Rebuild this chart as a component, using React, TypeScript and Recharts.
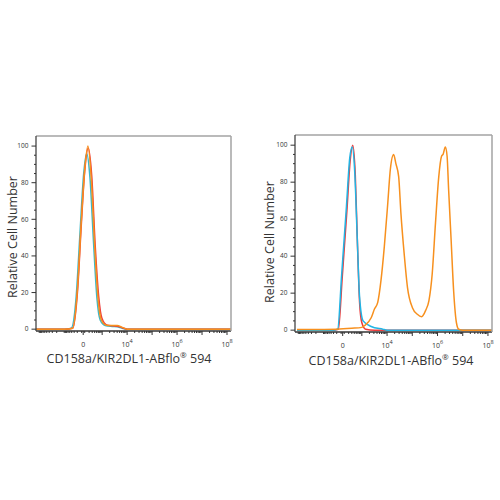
import { LineChart, Line, XAxis, YAxis } from "recharts"

// display coordinate: t = decade position on the biexponential axis
const T_MIN = 0.35
const T_MAX = 8.16
const ZERO_T = 2.24

const Y_TICKS = [0, 5, 10, 15, 20, 25, 30, 35, 40, 45, 50, 55, 60, 65, 70, 75, 80, 85, 90, 95, 100]
const X_LABEL_POS = [ZERO_T, 4, 6, 8]
const X_LABEL_EXP = ["", "4", "6", "8"]

const COLORS = {
  red: "#ec3b3b",
  orange: "#f7901e",
  teal: "#3bb8c8",
  cyan: "#22b4e4",
}

// left panel (isotype / controls)
const leftTealT = [0.35, 1.5, 1.76, 1.96, 2.11, 2.26, 2.38, 2.51, 2.66, 2.79, 2.92, 3.12, 3.4, 3.6, 3.78, 3.98, 8.16]
const leftTealV = [0, 0, 0.5, 18, 52, 85, 96, 83, 46, 17, 5, 2, 1.5, 1.3, 0.6, 0, 0]
const leftRedT = [0.35, 1.5, 1.82, 2.02, 2.16, 2.3, 2.44, 2.58, 2.72, 2.86, 2.99, 3.2, 3.4, 3.6, 3.8, 4.0, 8.16]
const leftRedV = [0, 0, 0.5, 22, 56, 86, 99, 84, 46, 18, 6, 2.2, 1.8, 1.6, 0.8, 0, 0]
const leftOrangeT = [0.35, 1.5, 1.82, 2.02, 2.16, 2.3, 2.43, 2.57, 2.71, 2.84, 2.97, 3.17, 3.4, 3.6, 3.81, 4.0, 8.16]
const leftOrangeV = [0, 0, 0.5, 24, 58, 87, 100, 81, 43, 16, 5, 2.2, 2, 2, 1, 0, 0]

// right panel
const rightOrangeT = [0.43, 1.0, 2.0, 2.6, 3.0, 3.11, 3.37, 3.5, 3.63, 3.76, 3.89, 4.03, 4.13, 4.26, 4.35, 4.46, 4.55, 4.68, 4.81, 5.01, 5.2, 5.37, 5.53, 5.66, 5.79, 5.92, 6.05, 6.16, 6.22, 6.31, 6.38, 6.44, 6.54, 6.64, 6.75, 6.84, 7.0, 8.16]
const rightOrangeV = [0.3, 0.3, 0.5, 1, 1.5, 2.5, 6.7, 11.4, 15, 27, 45, 69, 87, 95, 90, 83, 63, 41, 23, 12, 8.6, 7.3, 10.7, 16, 30.5, 58, 83, 94, 95, 99, 94, 76, 48.6, 21, 4, 0.5, 0, 0]
const rightRedT = [0.43, 1.8, 2.07, 2.22, 2.41, 2.54, 2.64, 2.74, 2.83, 2.91, 3.0, 3.15, 3.5, 8.16]
const rightRedV = [0, 0, 0.5, 28, 65, 92, 100, 84, 45, 15, 4, 0.5, 0, 0]
const rightCyanT = [0.43, 1.8, 2.04, 2.2, 2.39, 2.52, 2.62, 2.72, 2.82, 2.91, 3.05, 3.37, 3.83, 4.0, 8.16]
const rightCyanV = [0, 0, 0.5, 30, 67, 93, 99, 85, 49, 18, 5, 2, 0.5, 0, 0]

const toData = (t: number[], v: number[]) => t.map((x, i) => ({ t: x, v: v[i] }))

// decade + minor ticks, mirrored below zero like a biex axis
const xTicks: number[] = []
for (let d = 2; d <= 7; d++) {
  for (let k = 1; k <= 9; k++) {
    const t = d + Math.log10(k)
    if (t > ZERO_T + 0.05) {
      xTicks.push(t)
      const m = 2 * ZERO_T - t
      if (m >= T_MIN + 0.02) xTicks.push(m)
    }
  }
}
xTicks.push(8, ZERO_T)

const TICK_COLOR = "#333"
const FONT = "'Open Sans', 'DejaVu Sans', sans-serif"

function YTick(props: any) {
  const { x, y, payload } = props
  const major = payload.value % 20 === 0
  return (
    <g>
      <line x1={x - (major ? 4.5 : 2)} x2={x} y1={y} y2={y} stroke={TICK_COLOR} strokeWidth={1} />
      {major && (
        <text x={x - 7.5} y={y} dy={2.3} textAnchor="end" fontSize={6.5} fill={TICK_COLOR} fontFamily={FONT}>
          {payload.value}
        </text>
      )}
    </g>
  )
}

function XTick(props: any) {
  const { x, y, payload } = props
  const li = X_LABEL_POS.findIndex((p) => Math.abs(p - payload.value) < 1e-6)
  const isDecade = Math.abs(payload.value - Math.round(payload.value)) < 1e-6
  const len = li >= 0 || isDecade ? 4 : 2
  return (
    <g>
      <line x1={x} x2={x} y1={y} y2={y + len} stroke={TICK_COLOR} strokeWidth={1} />
      {li >= 0 && (
        <text x={x} y={y + 16} textAnchor="middle" fontSize={7} fill={TICK_COLOR} fontFamily={FONT}>
          {X_LABEL_EXP[li] === "" ? "0" : "10"}
          {X_LABEL_EXP[li] !== "" && (
            <tspan dy={-4} fontSize={5.5}>
              {X_LABEL_EXP[li]}
            </tspan>
          )}
        </text>
      )}
    </g>
  )
}

interface Series {
  data: { t: number; v: number }[]
  color: string
}

interface PanelProps {
  left: number
  margin: { top: number; right: number; bottom: number; left: number }
  series: Series[]
}

function Panel({ left, margin, series }: PanelProps) {
  return (
    <div style={{ position: "absolute", left, top: 0 }}>
      <LineChart width={250} height={400} margin={margin}>
        <XAxis
          dataKey="t"
          type="number"
          domain={[T_MIN, T_MAX]}
          allowDataOverflow
          ticks={xTicks}
          interval={0}
          tick={<XTick />}
          tickLine={false}
          tickSize={0}
          tickMargin={0}
          mirror
          axisLine={{ stroke: "#333", strokeWidth: 1.3 }}
        />
        <XAxis
          xAxisId="top"
          orientation="top"
          dataKey="t"
          type="number"
          domain={[T_MIN, T_MAX]}
          tick={false}
          tickLine={false}
          mirror
          axisLine={{ stroke: "#a3a3a3", strokeWidth: 1.5 }}
        />
        <YAxis
          type="number"
          domain={[-1, 105.5]}
          allowDataOverflow
          ticks={Y_TICKS}
          interval={0}
          tick={<YTick />}
          tickLine={false}
          tickSize={0}
          tickMargin={0}
          mirror
          axisLine={{ stroke: "#444", strokeWidth: 1.3 }}
        />
        <YAxis
          yAxisId="right"
          orientation="right"
          type="number"
          domain={[-1, 105.5]}
          tick={false}
          tickLine={false}
          mirror
          axisLine={{ stroke: "#a3a3a3", strokeWidth: 1.5 }}
        />
        {series.map((s, i) => (
          <Line
            key={i}
            data={s.data}
            dataKey="v"
            type="monotone"
            stroke={s.color}
            strokeWidth={1.5}
            dot={false}
            isAnimationActive={false}
          />
        ))}
      </LineChart>
    </div>
  )
}

const titleStyle: React.CSSProperties = {
  position: "absolute",
  fontFamily: FONT,
  fontSize: 12.5,
  color: "#333",
  whiteSpace: "nowrap",
  lineHeight: 1,
}

function XTitle({ cx, cy }: { cx: number; cy: number }) {
  return (
    <div style={{ ...titleStyle, left: cx, top: cy, transform: "translate(-50%, -50%)" }}>
      CD158a/KIR2DL1-ABflo<sup style={{ fontSize: 8 }}>®</sup> 594
    </div>
  )
}

function YTitle({ cx, cy }: { cx: number; cy: number }) {
  return (
    <div style={{ ...titleStyle, left: cx, top: cy, transform: "translate(-50%, -50%) rotate(-90deg)" }}>
      Relative Cell Number
    </div>
  )
}

export default function App() {
  return (
    <div style={{ position: "absolute", left: 0, top: 0, width: 500, height: 500, background: "#fff" }}>
      <Panel
        left={0}
        margin={{ top: 136, right: 19, bottom: 69, left: 36 }}
        series={[
          { data: toData(leftTealT, leftTealV), color: COLORS.teal },
          { data: toData(leftRedT, leftRedV), color: COLORS.red },
          { data: toData(leftOrangeT, leftOrangeV), color: COLORS.orange },
        ]}
      />
      <Panel
        left={250}
        margin={{ top: 135, right: 8, bottom: 68, left: 45 }}
        series={[
          { data: toData(rightRedT, rightRedV), color: COLORS.red },
          { data: toData(rightCyanT, rightCyanV), color: COLORS.cyan },
          { data: toData(rightOrangeT, rightOrangeV), color: COLORS.orange },
        ]}
      />
      <YTitle cx={13} cy={237} />
      <YTitle cx={270} cy={242} />
      <XTitle cx={129} cy={358} />
      <XTitle cx={391} cy={360} />
    </div>
  )
}
